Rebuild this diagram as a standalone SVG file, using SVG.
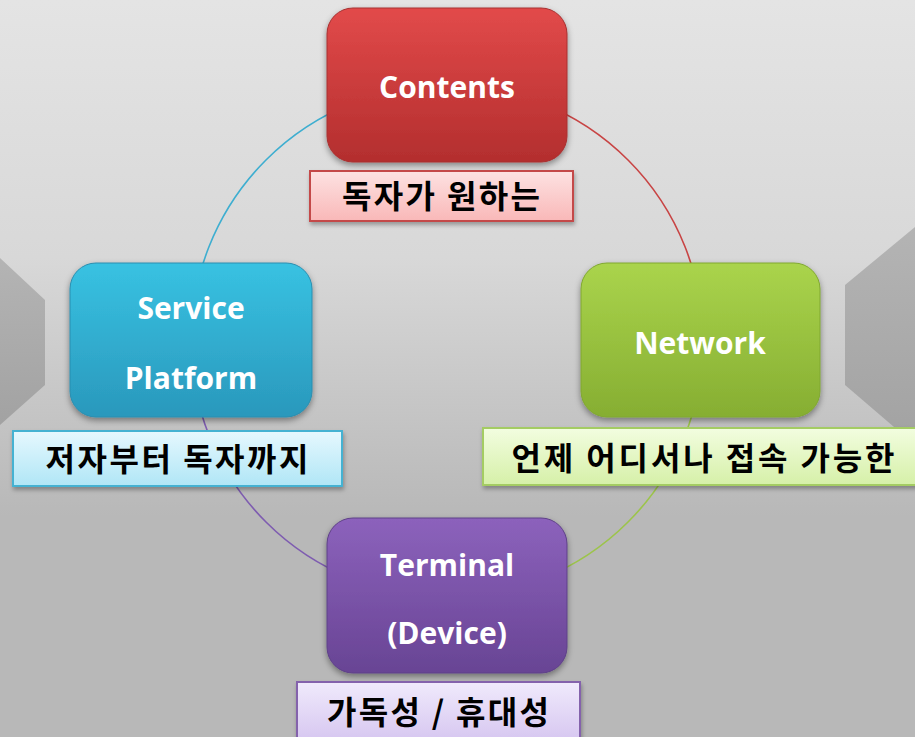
<svg xmlns="http://www.w3.org/2000/svg" width="915" height="737" viewBox="0 0 915 737">
<defs>
<linearGradient id="bg" x1="0" y1="0" x2="0" y2="1">
<stop offset="0" stop-color="#e4e4e4"/>
<stop offset="0.35" stop-color="#d8d8d8"/>
<stop offset="0.7" stop-color="#b8b8b8"/>
<stop offset="1" stop-color="#b8b8b8"/>
</linearGradient>
<linearGradient id="chev" x1="0" y1="0" x2="0" y2="1">
<stop offset="0" stop-color="#b4b4b4"/>
<stop offset="1" stop-color="#a2a2a2"/>
</linearGradient>
<linearGradient id="gRed" x1="0" y1="0" x2="0" y2="1">
<stop offset="0" stop-color="#e24a4a"/>
<stop offset="1" stop-color="#b32e2e"/>
</linearGradient>
<linearGradient id="gCyan" x1="0" y1="0" x2="0" y2="1">
<stop offset="0" stop-color="#38c2e2"/>
<stop offset="1" stop-color="#2a98bc"/>
</linearGradient>
<linearGradient id="gGreen" x1="0" y1="0" x2="0" y2="1">
<stop offset="0" stop-color="#aad44c"/>
<stop offset="1" stop-color="#86ae32"/>
</linearGradient>
<linearGradient id="gPurple" x1="0" y1="0" x2="0" y2="1">
<stop offset="0" stop-color="#8c62bc"/>
<stop offset="1" stop-color="#684494"/>
</linearGradient>
<linearGradient id="lRed" x1="0" y1="0" x2="0" y2="1">
<stop offset="0" stop-color="#fde2e2"/>
<stop offset="1" stop-color="#f9b8b8"/>
</linearGradient>
<linearGradient id="lCyan" x1="0" y1="0" x2="0" y2="1">
<stop offset="0" stop-color="#e6f8fe"/>
<stop offset="1" stop-color="#b0e6f6"/>
</linearGradient>
<linearGradient id="lGreen" x1="0" y1="0" x2="0" y2="1">
<stop offset="0" stop-color="#f2fde0"/>
<stop offset="1" stop-color="#d6f0a8"/>
</linearGradient>
<linearGradient id="lPurple" x1="0" y1="0" x2="0" y2="1">
<stop offset="0" stop-color="#f0eafc"/>
<stop offset="1" stop-color="#d6c6f0"/>
</linearGradient>
<filter id="sh" x="-10%" y="-10%" width="120%" height="130%">
<feDropShadow dx="0" dy="3" stdDeviation="3" flood-color="#000" flood-opacity="0.4"/>
</filter>
<filter id="sh2" x="-5%" y="-10%" width="110%" height="140%">
<feDropShadow dx="1" dy="3" stdDeviation="2" flood-color="#000" flood-opacity="0.3"/>
</filter>
</defs>
<style>
.box{filter:url(#sh);}
.lbl{filter:url(#sh2);stroke-width:2;}
.t{font-family:"Open Sans","Noto Sans",sans-serif;font-weight:bold;font-size:30px;fill:#ffffff;text-anchor:middle;}
.k{font-family:"Noto Sans CJK KR",sans-serif;font-weight:bold;font-size:32px;fill:#000000;text-anchor:middle;}
.arc{fill:none;stroke-width:1.6;}
</style>
<rect width="915" height="737" fill="url(#bg)"/>
<polygon points="0,258 45,300 45,385 0,425" fill="url(#chev)"/>
<polygon points="915,227 845,285 845,385 915,445" fill="url(#chev)"/>
<g id="connectors">
<path class="arc" d="M447,85 A256,256 0 0 0 191,341" stroke="#3eaed0"/>
<path class="arc" d="M447,85 A256,256 0 0 1 703,341" stroke="#c84444"/>
<path class="arc" d="M703,341 A256,256 0 0 1 447,597" stroke="#9cc44a"/>
<path class="arc" d="M191,341 A256,256 0 0 0 447,597" stroke="#7e5cb0"/>
</g>
<g id="contents">
<rect class="box" x="327" y="8" width="240" height="154" rx="26" fill="url(#gRed)" stroke="#a83030" stroke-width="1"/>
<text class="t" x="447" y="98">Contents</text>
</g>
<g id="contents-label">
<rect class="lbl" x="310" y="171" width="263" height="50" fill="url(#lRed)" stroke="#c44a4a"/>
<text class="k" x="441" y="208" textLength="198" lengthAdjust="spacing">독자가 원하는</text>
</g>
<g id="service">
<rect class="box" x="70" y="263" width="242" height="154" rx="26" fill="url(#gCyan)" stroke="#2a8eb0" stroke-width="1"/>
<text class="t" x="191" y="319">Service</text>
<text class="t" x="191" y="389">Platform</text>
</g>
<g id="service-label">
<rect class="lbl" x="13" y="431" width="329" height="55" fill="url(#lCyan)" stroke="#44b2d2"/>
<text class="k" x="177" y="471" textLength="263" lengthAdjust="spacing">저자부터 독자까지</text>
</g>
<g id="network">
<rect class="box" x="581" y="263" width="239" height="154" rx="26" fill="url(#gGreen)" stroke="#80a830" stroke-width="1"/>
<text class="t" x="700" y="354">Network</text>
</g>
<g id="network-label">
<rect class="lbl" x="483" y="428" width="440" height="57" fill="url(#lGreen)" stroke="#a4cc64"/>
<text class="k" x="703" y="470" textLength="383" lengthAdjust="spacing">언제 어디서나 접속 가능한</text>
</g>
<g id="terminal">
<rect class="box" x="327" y="518" width="240" height="155" rx="26" fill="url(#gPurple)" stroke="#5e4088" stroke-width="1"/>
<text class="t" x="447" y="576">Terminal</text>
<text class="t" x="447" y="644">(Device)</text>
</g>
<g id="terminal-label">
<rect class="lbl" x="297" y="682" width="283" height="60" fill="url(#lPurple)" stroke="#8462ac"/>
<text class="k" x="438" y="724" textLength="222" lengthAdjust="spacing">가독성 / 휴대성</text>
</g>
</svg>
